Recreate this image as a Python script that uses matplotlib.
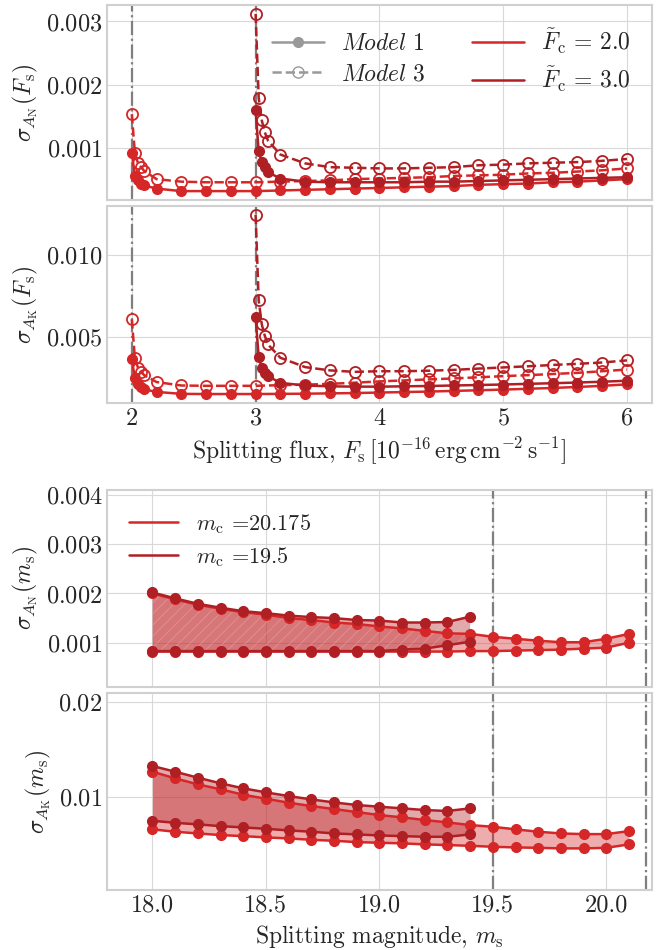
import numpy as np
import matplotlib
matplotlib.use('Agg')
import matplotlib.pyplot as plt
from matplotlib.lines import Line2D

plt.style.use('seaborn-v0_8-whitegrid')
plt.rcParams['font.family'] = 'serif'
plt.rcParams['font.serif'] = ['cmr10']
plt.rcParams['mathtext.fontset'] = 'cm'
plt.rcParams['axes.formatter.use_mathtext'] = True
plt.rcParams['font.size'] = 17
plt.rcParams['axes.labelsize'] = 17
plt.rcParams['axes.edgecolor'] = '#d0d0d0'
plt.rcParams['grid.color'] = '#d9d9d9'
plt.rcParams['hatch.linewidth'] = 0.6

# splitting flux grids
fs_c2 = [2.0, 2.025, 2.05, 2.075, 2.1, 2.2, 2.4, 2.6, 2.8, 3.0, 3.2, 3.4, 3.6, 3.8,
         4.0, 4.2, 4.4, 4.6, 4.8, 5.0, 5.2, 5.4, 5.6, 5.8, 6.0]
fs_c3 = [3.0, 3.025, 3.05, 3.075, 3.1, 3.2, 3.4, 3.6, 3.8, 4.0, 4.2, 4.4, 4.6, 4.8,
         5.0, 5.2, 5.4, 5.6, 5.8, 6.0]

# sigma_AN vs F_s
an_m1_c2 = [0.00091, 0.00055, 0.00048, 0.00043, 0.00040, 0.00035, 0.00031, 0.00031, 0.00031,
            0.00031, 0.00032, 0.00033, 0.00034, 0.00035, 0.00036, 0.00037, 0.00038, 0.00039,
            0.00041, 0.00042, 0.00043, 0.00045, 0.00046, 0.00048, 0.00050]
an_m3_c2 = [0.00153, 0.00091, 0.00075, 0.00069, 0.00063, 0.00050, 0.00046, 0.00045, 0.00045,
            0.00045, 0.00046, 0.00047, 0.00048, 0.00050, 0.00051, 0.00052, 0.00053, 0.00055,
            0.00056, 0.00057, 0.00059, 0.00060, 0.00062, 0.00064, 0.00067]
an_m1_c3 = [0.00159, 0.00094, 0.00077, 0.00069, 0.00061, 0.00051, 0.00046, 0.00045, 0.00045,
            0.00045, 0.00045, 0.00046, 0.00046, 0.00047, 0.00048, 0.00049, 0.00050, 0.00051,
            0.00052, 0.00053]
an_m3_c3 = [0.00312, 0.00179, 0.00143, 0.00124, 0.00111, 0.00089, 0.00075, 0.00069, 0.00068,
            0.00067, 0.00067, 0.00068, 0.00069, 0.00072, 0.00073, 0.00075, 0.00076, 0.00077,
            0.00079, 0.00082]

# sigma_AK vs F_s
ak_m1_c2 = [0.00364, 0.00248, 0.00212, 0.00195, 0.00181, 0.00166, 0.00154, 0.00153, 0.00153,
            0.00153, 0.00154, 0.00155, 0.00157, 0.00159, 0.00162, 0.00165, 0.00168, 0.00172,
            0.00176, 0.00180, 0.00185, 0.00190, 0.00196, 0.00203, 0.00212]
ak_m3_c2 = [0.00608, 0.00370, 0.00313, 0.00288, 0.00268, 0.00226, 0.00205, 0.00203, 0.00203,
            0.00203, 0.00207, 0.00210, 0.00215, 0.00222, 0.00230, 0.00236, 0.00242, 0.00248,
            0.00255, 0.00262, 0.00268, 0.00275, 0.00282, 0.00292, 0.00302]
ak_m1_c3 = [0.00622, 0.00378, 0.00313, 0.00282, 0.00262, 0.00221, 0.00205, 0.00200, 0.00198,
            0.00198, 0.00200, 0.00202, 0.00205, 0.00208, 0.00211, 0.00215, 0.00219, 0.00223,
            0.00228, 0.00234]
ak_m3_c3 = [0.01244, 0.00724, 0.00577, 0.00506, 0.00455, 0.00374, 0.00317, 0.00297, 0.00288,
            0.00292, 0.00292, 0.00295, 0.00300, 0.00308, 0.00315, 0.00322, 0.00330, 0.00337,
            0.00345, 0.00358]

# splitting magnitude grids
ms_long = [18.0, 18.1, 18.2, 18.3, 18.4, 18.5, 18.6, 18.7, 18.8, 18.9, 19.0, 19.1, 19.2,
           19.3, 19.4, 19.5, 19.6, 19.7, 19.8, 19.9, 20.0, 20.1]
ms_short = [18.0, 18.1, 18.2, 18.3, 18.4, 18.5, 18.6, 18.7, 18.8, 18.9, 19.0, 19.1, 19.2,
            19.3, 19.4]
mc_values = [20.175, 19.5]

an_hi_20 = [0.00200, 0.00188, 0.00177, 0.00169, 0.00162, 0.00157, 0.00150, 0.00146, 0.00141,
            0.00138, 0.00133, 0.00129, 0.00124, 0.00119, 0.00118, 0.00112, 0.00108, 0.00104,
            0.00101, 0.00101, 0.00108, 0.00118]
an_lo_20 = [0.00082, 0.00082, 0.00082, 0.00082, 0.00082, 0.00082, 0.00082, 0.00082, 0.00082,
            0.00082, 0.00082, 0.00082, 0.00082, 0.00082, 0.00083, 0.00083, 0.00084, 0.00085,
            0.00086, 0.00088, 0.00090, 0.00100]
an_hi_19 = [0.00202, 0.00190, 0.00179, 0.00171, 0.00164, 0.00160, 0.00155, 0.00152, 0.00150,
            0.00146, 0.00145, 0.00141, 0.00141, 0.00142, 0.00153]
an_lo_19 = [0.00083, 0.00083, 0.00083, 0.00083, 0.00083, 0.00083, 0.00083, 0.00083, 0.00083,
            0.00083, 0.00083, 0.00086, 0.00088, 0.00095, 0.00102]

ak_hi_20 = [0.01263, 0.01193, 0.01130, 0.01078, 0.01021, 0.00979, 0.00937, 0.00902, 0.00870,
            0.00839, 0.00807, 0.00783, 0.00755, 0.00730, 0.00702, 0.00684, 0.00657, 0.00632,
            0.00614, 0.00607, 0.00607, 0.00639]
ak_lo_20 = [0.00657, 0.00632, 0.00614, 0.00597, 0.00586, 0.00572, 0.00562, 0.00547, 0.00537,
            0.00523, 0.00516, 0.00510, 0.00499, 0.00492, 0.00484, 0.00474, 0.00467, 0.00463,
            0.00457, 0.00457, 0.00463, 0.00499]
ak_hi_19 = [0.01323, 0.01263, 0.01200, 0.01141, 0.01088, 0.01046, 0.01007, 0.00972, 0.00940,
            0.00913, 0.00895, 0.00878, 0.00860, 0.00850, 0.00878]
ak_lo_19 = [0.00747, 0.00726, 0.00709, 0.00691, 0.00677, 0.00663, 0.00646, 0.00632, 0.00614,
            0.00604, 0.00593, 0.00586, 0.00579, 0.00579, 0.00604]

red = '#d62728'
dark = '#b01f24'
vgray = '#7f7f7f'

fig = plt.figure(figsize=(6.65, 9.5), dpi=100)
L, W = 0.161, 0.819
ax1 = fig.add_axes([L, 0.7895, W, 0.2052])
ax2 = fig.add_axes([L, 0.5758, W, 0.2074], sharex=ax1)
ax3 = fig.add_axes([L, 0.2768, W, 0.2074])
ax4 = fig.add_axes([L, 0.0632, W, 0.2073], sharex=ax3)

solid = dict(ls='-', marker='o', ms=7, lw=1.8)
dashed = dict(ls='--', marker='o', ms=8, lw=1.8, mfc='none', mew=1.3)

for ax, m1c2, m3c2, m1c3, m3c3 in [(ax1, an_m1_c2, an_m3_c2, an_m1_c3, an_m3_c3),
                                   (ax2, ak_m1_c2, ak_m3_c2, ak_m1_c3, ak_m3_c3)]:
    for fc in [2.0, 3.0]:
        ax.axvline(fc, color=vgray, ls='-.', lw=1.6, zorder=1)
    ax.plot(fs_c2, m1c2, color=red, **solid)
    ax.plot(fs_c2, m3c2, color=red, **dashed)
    ax.plot(fs_c3, m1c3, color=dark, **solid)
    ax.plot(fs_c3, m3c3, color=dark, **dashed)

ax1.set_yticks([0.001, 0.002, 0.003])
ax2.set_yticks([0.005, 0.010])
ax1.set_xticks([2, 3, 4, 5, 6])
plt.setp(ax1.get_xticklabels(), visible=False)
ax1.set_ylabel(r'$\sigma_{A_{\rm N}}(F_{\rm s})$')
ax2.set_ylabel(r'$\sigma_{A_{\rm K}}(F_{\rm s})$')
ax2.set_xlabel(r'Splitting flux, $F_{\rm s}\,[10^{-16}\,{\rm erg\,cm^{-2}\,s^{-1}}]$')

handles = [
    Line2D([], [], color='#999999', ls='-', marker='o', ms=7, lw=1.8),
    Line2D([], [], color='#999999', ls='--', marker='o', ms=8, lw=1.8, mfc='none'),
    Line2D([], [], color=red, lw=1.8),
    Line2D([], [], color=dark, lw=1.8),
]
labels = [r'$\mathit{Model\ 1}$', r'$\mathit{Model\ 3}$',
          r'$\tilde{F}_{\rm c}\,=\,2.0$', r'$\tilde{F}_{\rm c}\,=\,3.0$']
ax1.legend(handles, labels, ncol=2, loc='upper right', frameon=False,
           fontsize=17, handlelength=2.2, handletextpad=0.7, columnspacing=2.0,
           borderaxespad=0.5, labelspacing=0.35)

# magnitude panels: shaded bands between the two models for each m_c
for ax, hi20, lo20, hi19, lo19, hatch in [(ax3, an_hi_20, an_lo_20, an_hi_19, an_lo_19, '///'),
                                          (ax4, ak_hi_20, ak_lo_20, ak_hi_19, ak_lo_19, None)]:
    for mc in mc_values:
        ax.axvline(mc, color=vgray, ls='-.', lw=1.6, zorder=1)
    ax.fill_between(ms_long, lo20, hi20, color=red, alpha=0.38, lw=0)
    ax.fill_between(ms_short, lo19, hi19, color=dark, alpha=0.38, lw=0,
                    hatch=hatch, edgecolor='#f0c0c0')
    ax.plot(ms_long, hi20, color=red, **solid)
    ax.plot(ms_long, lo20, color=red, **solid)
    ax.plot(ms_short, hi19, color=dark, **solid)
    ax.plot(ms_short, lo19, color=dark, **solid)

ax3.set_xlim(17.8, 20.2)
ax3.set_ylim(0.0001, 0.0041)
ax4.set_ylim(0.0002, 0.0209)
ax3.set_yticks([0.001, 0.002, 0.003, 0.004])
ax4.set_yticks([0.01, 0.02])
ax3.set_xticks([18.0, 18.5, 19.0, 19.5, 20.0])
ax4.set_xticklabels(['18.0', '18.5', '19.0', '19.5', '20.0'])
plt.setp(ax3.get_xticklabels(), visible=False)
ax3.set_ylabel(r'$\sigma_{A_{\rm N}}(m_{\rm s})$')
ax4.set_ylabel(r'$\sigma_{A_{\rm K}}(m_{\rm s})$')
ax4.set_xlabel(r'Splitting magnitude, $m_{\rm s}$')

leg_handles = [Line2D([], [], color=red, lw=1.8), Line2D([], [], color=dark, lw=1.8)]
ax3.legend(leg_handles, [r'$m_{\rm c}$ =%g' % mc for mc in mc_values], loc='upper left',
           frameon=False, fontsize=16, handlelength=2.2, handletextpad=0.8,
           borderaxespad=0.6, labelspacing=0.4)

for ax in [ax1, ax2, ax3, ax4]:
    ax.tick_params(labelsize=17.5)
    for s in ax.spines.values():
        s.set_linewidth(1.5)

fig.savefig('out.png', dpi=100)
